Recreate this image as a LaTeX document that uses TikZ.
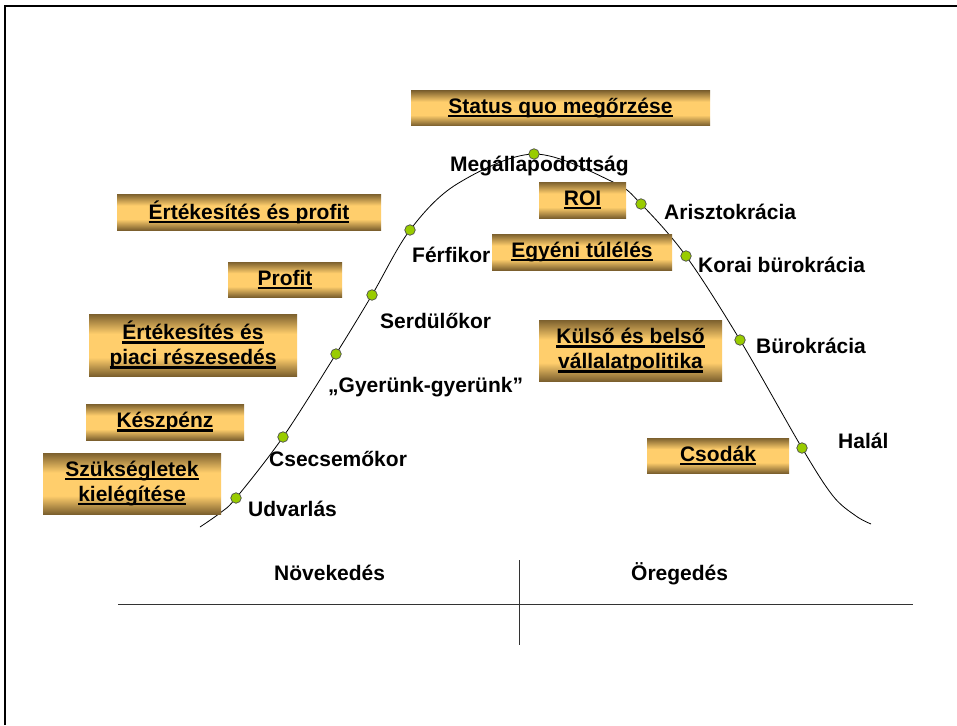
\documentclass[tikz,border=0pt]{standalone}
\usepackage{fontspec}
\setmainfont{Liberation Sans}
\definecolor{golddark}{RGB}{124,96,46}
\definecolor{goldlight}{RGB}{255,206,108}
\definecolor{dotgreen}{RGB}{153,204,0}
% gold panel fill: dark rims, broad light middle
\pgfdeclareverticalshading{goldshade}{100bp}{color(0bp)=(golddark); color(25bp)=(golddark);
  color(40bp)=(goldlight); color(59bp)=(goldlight); color(75bp)=(golddark); color(100bp)=(golddark)}
\newsavebox\ulsave
% thick underline used on the gold panels
\newcommand\ulbox[1]{\sbox\ulsave{#1}\rlap{\rule[-4pt]{\wd\ulsave}{2.2pt}}\usebox\ulsave}
\tikzset{
  goldbox/.style={draw=none, shading=goldshade, inner sep=0pt, align=center,
    font=\fontsize{21}{25}\selectfont\bfseries},
  stage/.style={inner sep=0pt, anchor=base west,
    font=\fontsize{21}{25}\selectfont\bfseries},
  phase/.style={stage},
  lifedot/.style={circle, draw=black!70, line width=0.7pt, fill=dotgreen,
    minimum size=10.5pt, inner sep=0pt},
  axisline/.style={draw=black!80, line width=0.8pt}
}
\begin{document}
\begin{tikzpicture}[x=1pt,y=-1pt]
\useasboundingbox (0,0) rectangle (957,725);
\fill[white] (0,0) rectangle (957,725);
% frame
\draw[line width=1.6pt] (5,725) -- (5,6) -- (957,6);

% points of the life-cycle curve
\coordinate (c0) at (200,527);
\coordinate (c0a) at (220,513);
\coordinate (p1) at (236,498);
\coordinate (p2) at (283,437);
\coordinate (p3) at (336,354);
\coordinate (p4) at (372,295);
\coordinate (p5) at (410,230);
\coordinate (q1) at (457,184);
\coordinate (p6) at (534,154);
\coordinate (q2) at (613,182);
\coordinate (p7) at (641,204);
\coordinate (p8) at (686,256);
\coordinate (p9) at (740,340);
\coordinate (p10) at (802,448);
\coordinate (q3) at (833,496);
\coordinate (q4) at (856,516);
\coordinate (c1) at (871,524);

\draw[line width=0.8pt] plot[smooth, tension=0.55] coordinates
  {(c0) (c0a) (p1) (p2) (p3) (p4) (p5) (q1) (p6) (q2) (p7) (p8) (p9) (p10) (q3) (q4) (c1)};

% gold panels
\node[goldbox, minimum width=299pt, minimum height=35pt] (b1) at (560.5,108) {\ulbox{Status quo megőrzése}};
\node[goldbox, minimum width=264pt, minimum height=36pt] (b2) at (249,212) {\ulbox{Értékesítés és profit}};
\node[goldbox, minimum width=114pt, minimum height=35pt] (b3) at (285,279.5) {\ulbox{Profit}};
\node[goldbox, minimum width=208pt, minimum height=62pt] (b4) at (193,345) {\ulbox{Értékesítés és}\\\ulbox{piaci részesedés}};
\node[goldbox, minimum width=158pt, minimum height=36pt] (b5) at (165,422) {\ulbox{Készpénz}};
\node[goldbox, minimum width=178pt, minimum height=61pt] (b6) at (132,483.5) {\ulbox{Szükségletek}\\\ulbox{kielégítése}};
\node[goldbox, minimum width=87pt, minimum height=36pt] (b7) at (582.5,200) {\ulbox{ROI}};
\node[goldbox, minimum width=180pt, minimum height=36pt] (b8) at (582,252) {\ulbox{Egyéni túlélés}};
\node[goldbox, minimum width=183pt, minimum height=61pt] (b9) at (630.5,350.5) {\ulbox{Külső és belső}\\\ulbox{vállalatpolitika}};
\node[goldbox, minimum width=142pt, minimum height=35pt] (b10) at (718,455.5) {\ulbox{Csodák}};

% stage markers
\foreach \p in {p1,p2,p3,p4,p5,p6,p7,p8,p9,p10}
  \node[lifedot] (d\p) at (\p) {};

% stage names
\node[stage] (s6) at (450,171) {Megállapodottság};
\node[stage] (s5) at (412,262) {Férfikor};
\node[stage] (s4) at (380,328) {Serdülőkor};
\node[stage] (s3) at (328,392) {„Gyerünk-gyerünk”};
\node[stage] (s2) at (269,466) {Csecsemőkor};
\node[stage] (s1) at (248,516) {Udvarlás};
\node[stage] (s7) at (664,219) {Arisztokrácia};
\node[stage] (s8) at (698,272) {Korai bürokrácia};
\node[stage] (s9) at (756,353) {Bürokrácia};
\node[stage] (s10) at (838,448) {Halál};

% growth / ageing axis
\node[phase] (grow) at (274,580) {Növekedés};
\node[phase] (age) at (631,580) {Öregedés};
\coordinate (hl) at (118,604);
\coordinate (hr) at (913,604);
\coordinate (vt) at (519,560);
\coordinate (vb) at (519,645);
\draw[axisline] (hl) -- (hr);
\draw[axisline] (vt) -- (vb);
\end{tikzpicture}
\end{document}
